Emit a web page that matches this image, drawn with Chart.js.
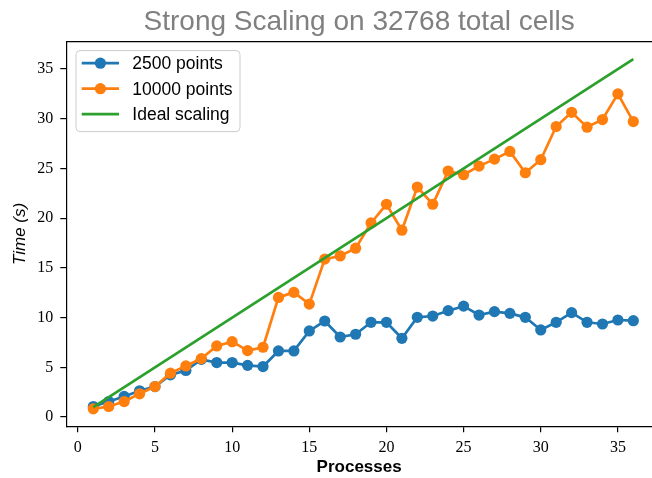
<!DOCTYPE html>
<html>
<head>
<meta charset="utf-8">
<script src="https://cdn.jsdelivr.net/npm/chart.js@4.4.1/dist/chart.umd.min.js"></script>
<style>
	html, body { margin: 0; padding: 0; overflow: hidden; background: #fff; }
	#wrap { width: 652px; height: 478px; }
</style>
</head>
<body>
<div id="wrap"><canvas id="chart" width="652" height="478"></canvas></div>
<script>
const processes = [1, 2, 3, 4, 5, 6, 7, 8, 9, 10, 11, 12, 13, 14, 15, 16, 17, 18,
	19, 20, 21, 22, 23, 24, 25, 26, 27, 28, 29, 30, 31, 32, 33, 34, 35, 36];
const time2500 = [1.06, 1.56, 2.07, 2.64, 3.07, 4.24, 4.68, 5.8, 5.48, 5.48, 5.2, 5.08,
	6.65, 6.65, 8.66, 9.66, 8.05, 8.33, 9.53, 9.53, 7.92, 10.03, 10.16, 10.7,
	11.16, 10.26, 10.6, 10.43, 10.03, 8.76, 9.53, 10.5, 9.53, 9.36, 9.76, 9.69];
const time10000 = [0.83, 1.06, 1.56, 2.34, 3.07, 4.41, 5.14, 5.88, 7.15, 7.58, 6.68, 7.02,
	12.03, 12.54, 11.36, 15.88, 16.2, 16.98, 19.52, 21.4, 18.79, 23.13, 21.4, 24.74,
	24.37, 25.24, 25.94, 26.71, 24.57, 25.88, 29.22, 30.65, 29.15, 29.92, 32.5, 29.72];
const idealProcesses = [1, 36];
const idealTime = [1, 36];
const xTicks = [0, 5, 10, 15, 20, 25, 30, 35];
const yTicks = [0, 5, 10, 15, 20, 25, 30, 35];

const sans = "'Liberation Sans', Arial, Helvetica, sans-serif";
const serif = "'Liberation Serif', 'Times New Roman', serif";

const toPoints = (xs, ys) => xs.map((x, i) => ({x: x, y: ys[i]}));

// top spine like matplotlib (the axes are cut off at the right edge)
const frame = {
	id: 'frame',
	beforeDatasetsDraw(chart) {
		const {ctx, chartArea: a} = chart;
		ctx.save();
		ctx.strokeStyle = '#000';
		ctx.lineWidth = 1.2;
		ctx.beginPath();
		ctx.moveTo(a.left, a.top);
		ctx.lineTo(a.right, a.top);
		ctx.stroke();
		ctx.restore();
	}
};

// legend box in the upper left of the axes
const insideLegend = {
	id: 'insideLegend',
	afterDatasetsDraw(chart) {
		const {ctx, chartArea: a} = chart;
		ctx.save();
		ctx.beginPath();
		ctx.roundRect(a.left + 9.7, a.top + 9, 164, 81, 4);
		ctx.fillStyle = 'rgba(255,255,255,0.8)';
		ctx.fill();
		ctx.strokeStyle = '#cccccc';
		ctx.lineWidth = 1;
		ctx.stroke();

		chart.data.datasets.forEach((ds, i) => {
			const y = a.top + 21.6 + i * 25.5;
			const lx = a.left + 15.4;
			ctx.strokeStyle = ds.borderColor;
			ctx.lineWidth = ds.borderWidth;
			ctx.beginPath();
			ctx.moveTo(lx, y);
			ctx.lineTo(lx + 37.3, y);
			ctx.stroke();
			if (ds.pointRadius > 0) {
				ctx.fillStyle = ds.borderColor;
				ctx.beginPath();
				ctx.arc(lx + 18.7, y, ds.pointRadius, 0, Math.PI * 2);
				ctx.fill();
			}
			ctx.fillStyle = '#000';
			ctx.font = '17.5px ' + sans;
			ctx.textBaseline = 'middle';
			ctx.fillText(ds.label, a.left + 66, y + 1);
		});
		ctx.restore();
	}
};

const ctx = document.getElementById('chart');

const chart = new Chart(ctx, {
	type: 'line',
	data: {
		datasets: [{
			label: '2500 points',
			data: toPoints(processes, time2500),
			borderColor: '#1f77b4',
			backgroundColor: '#1f77b4',
			borderWidth: 2.7,
			pointRadius: 5.6,
			pointBorderWidth: 0,
			order: 3
		}, {
			label: '10000 points',
			data: toPoints(processes, time10000),
			borderColor: '#ff7f0e',
			backgroundColor: '#ff7f0e',
			borderWidth: 2.7,
			pointRadius: 5.6,
			pointBorderWidth: 0,
			order: 2
		}, {
			label: 'Ideal scaling',
			data: toPoints(idealProcesses, idealTime),
			borderColor: '#2ca02c',
			backgroundColor: '#2ca02c',
			borderWidth: 2.7,
			pointRadius: 0,
			order: 1
		}]
	},
	options: {
		responsive: false,
		animation: false,
		layout: {
			autoPadding: false,
			padding: 0
		},
		plugins: {
			legend: {display: false},
			tooltip: {enabled: false},
			title: {
				display: true,
				fullSize: false,
				text: 'Strong Scaling on 32768 total cells',
				color: '#808080',
				font: {family: sans, size: 28, weight: 'normal'},
				padding: {top: 5, bottom: 3}
			}
		},
		scales: {
			x: {
				type: 'linear',
				min: -0.75,
				max: 37.21,
				afterBuildTicks: (scale) => { scale.ticks = xTicks.map(v => ({value: v})); },
				afterFit: (scale) => { scale.height = 51.7; },
				ticks: {
					color: '#000',
					font: {family: serif, size: 16},
					padding: 6,
					maxRotation: 0,
					callback: (v) => String(v)
				},
				grid: {drawOnChartArea: false, drawTicks: true, tickLength: 6, color: '#000', lineWidth: 1.2},
				border: {display: true, color: '#000', width: 1.2},
				title: {
					display: true,
					text: 'Processes',
					color: '#000',
					font: {family: sans, size: 17, weight: 'bold'},
					padding: {top: 0, bottom: 0}
				}
			},
			y: {
				type: 'linear',
				min: -0.93,
				max: 37.76,
				afterBuildTicks: (scale) => { scale.ticks = yTicks.map(v => ({value: v})); },
				afterFit: (scale) => { scale.width = 66.3; },
				ticks: {
					color: '#000',
					font: {family: serif, size: 16},
					padding: 7,
					callback: (v) => String(v)
				},
				grid: {drawOnChartArea: false, drawTicks: true, tickLength: 6, color: '#000', lineWidth: 1.2},
				border: {display: true, color: '#000', width: 1.2},
				title: {
					display: true,
					text: 'Time (s)',
					color: '#000',
					font: {family: sans, size: 17, style: 'italic'},
					padding: {top: 10, bottom: 0}
				}
			}
		}
	},
	plugins: [frame, insideLegend]
});
</script>
</body>
</html>
